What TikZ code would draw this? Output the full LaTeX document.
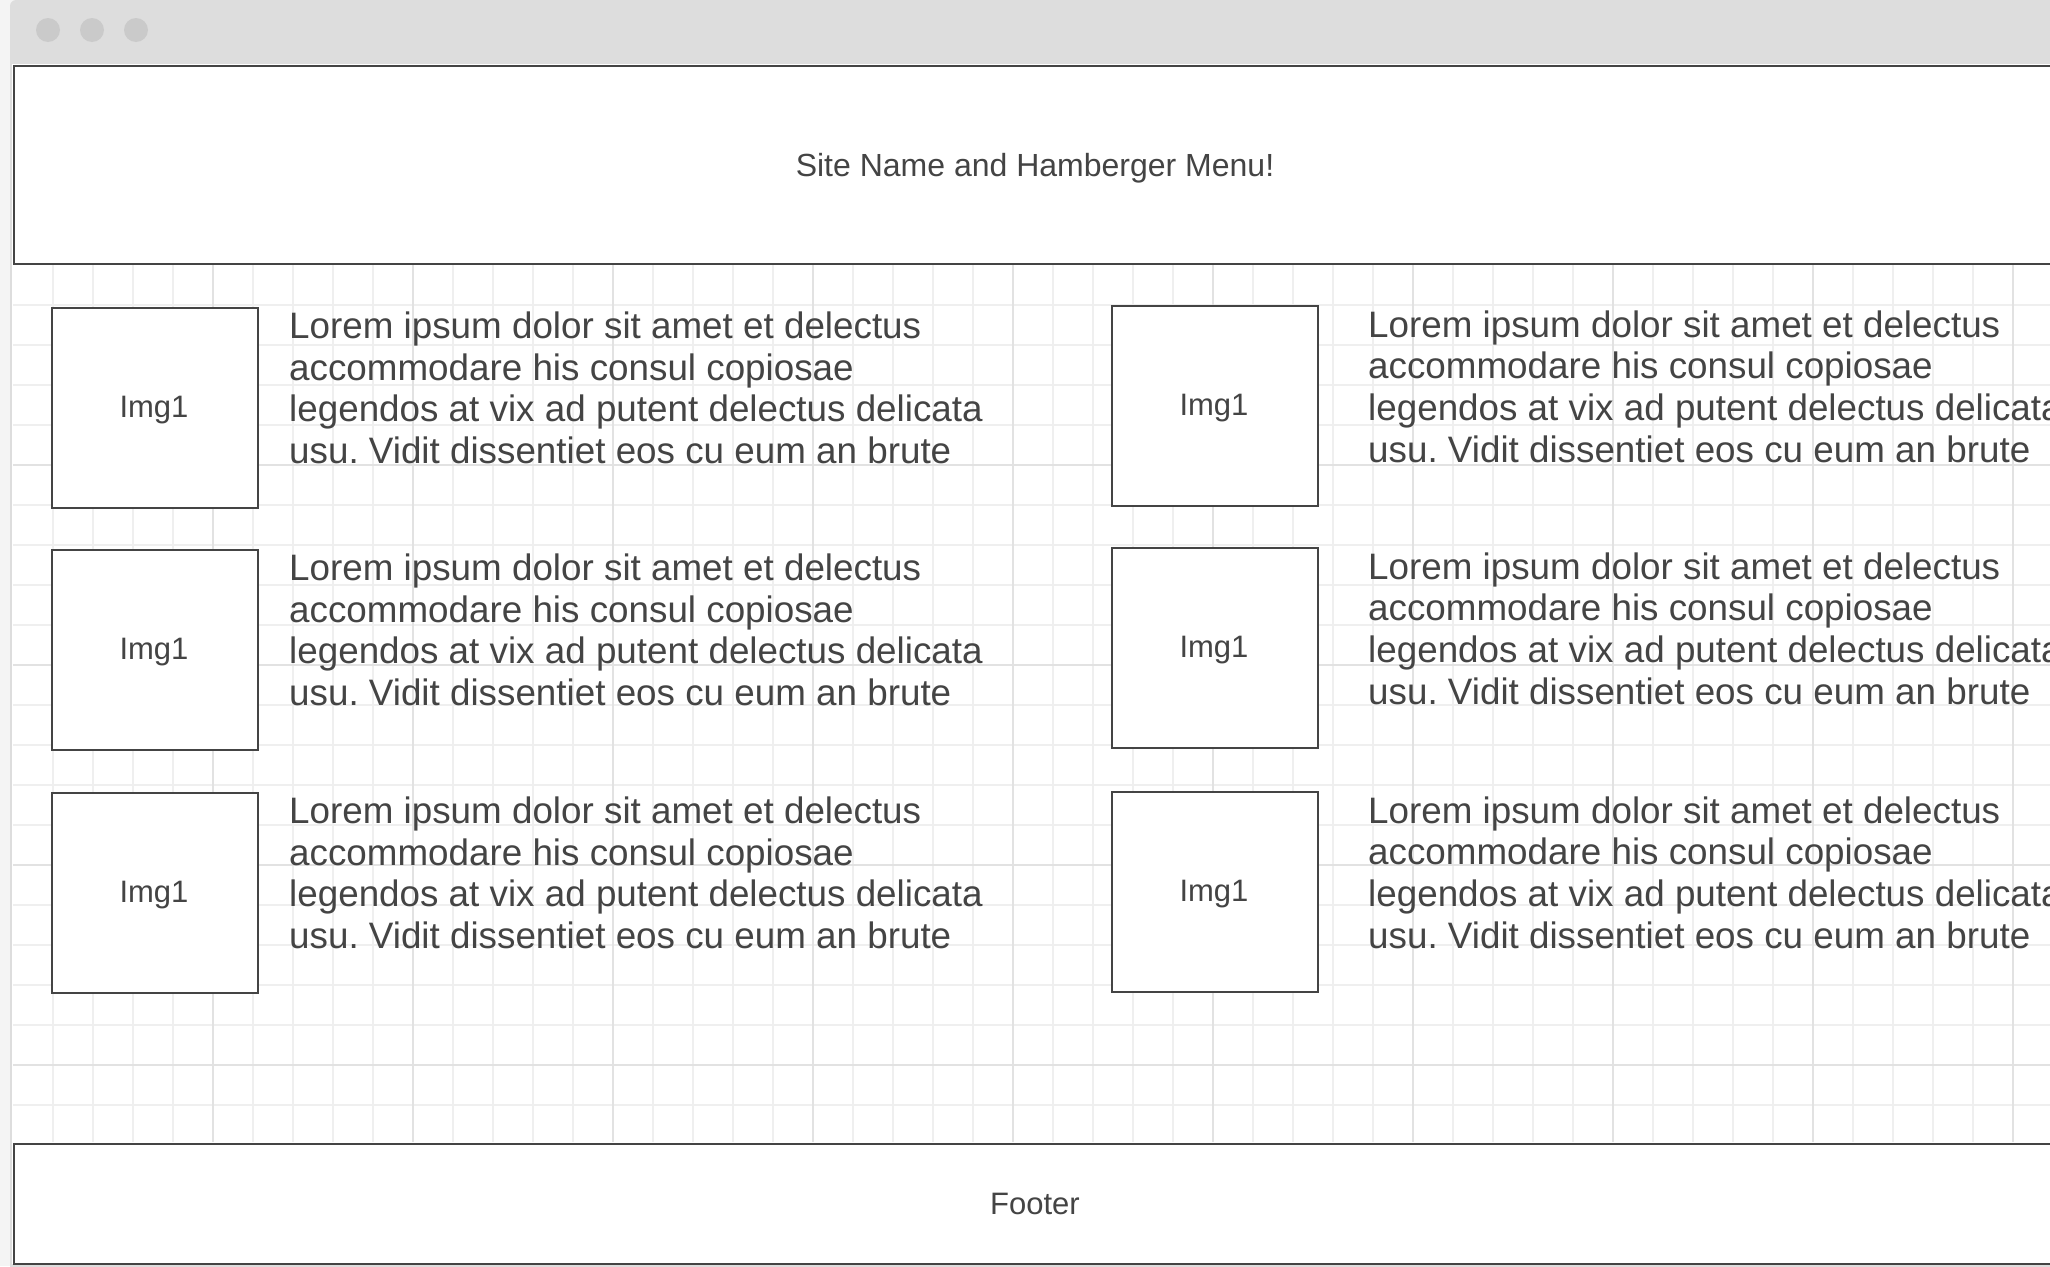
\documentclass[tikz,border=0pt]{standalone}
\usepackage{fontspec}
\setmainfont{Liberation Sans}
\definecolor{pagebg}{HTML}{F4F4F4}
\definecolor{framegray}{HTML}{DDDDDD}
\definecolor{dotgray}{HTML}{CACACA}
\definecolor{ink}{HTML}{444444}
\definecolor{gridminor}{HTML}{EFEFEF}
\definecolor{gridmajor}{HTML}{E2E2E2}
\frenchspacing
\newcommand{\lorembody}{\vtop{\baselineskip=41.7pt\hbox{Lorem ipsum dolor sit amet et delectus}\hbox{accommodare his consul copiosae}\hbox{legendos at vix ad putent delectus delicata}\hbox{usu. Vidit dissentiet eos cu eum an brute}}}
\begin{document}
\begin{tikzpicture}[x=1pt,y=-1pt,
 panel/.style={draw=ink, line width=2pt, fill=white, inner sep=0pt, anchor=north west},
 imgbox/.style={draw=ink, line width=1.5pt, fill=white, minimum width=206pt, minimum height=200pt, inner sep=0pt, anchor=north west},
 imgtext/.style={text=ink, font=\fontsize{31}{36}\selectfont, anchor=base, inner sep=0pt},
 lorem/.style={text=ink, font=\fontsize{36.8}{41.7}\selectfont, anchor=base west, inner sep=0pt},
 headtext/.style={text=ink, font=\fontsize{32}{38}\selectfont, anchor=base, inner sep=0pt},
 foottext/.style={text=ink, font=\fontsize{31}{36}\selectfont, anchor=base, inner sep=0pt},
 gminor/.style={draw=gridminor, line width=1.3pt},
 gmajor/.style={draw=gridmajor, line width=1.3pt},
 windot/.style={circle, fill=dotgray, minimum size=24pt, inner sep=0pt}]
\useasboundingbox (0,0) rectangle (2050,1266);
\clip (0,0) rectangle (2050,1266);
\fill[pagebg] (0,0) rectangle (2050,1266);
\fill[framegray, rounded corners=6pt] (10,0) rectangle (2090,1300);
\fill[white] (12,64) rectangle (2050,1264);
% grid
\foreach \i in {1,...,51} {\draw[gminor] ({13+40*\i},265) -- ({13+40*\i},1142);}
\foreach \j in {1,...,21} {\draw[gminor] (13,{265+40*\j}) -- (2050,{265+40*\j});}
\foreach \i in {1,...,10} {\draw[gmajor] ({13+200*\i},265) -- ({13+200*\i},1142);}
\foreach \j in {1,...,4} {\draw[gmajor] (13,{265+200*\j}) -- (2050,{265+200*\j});}
% title bar dots
\node[windot] (dot1) at (48,30) {};
\node[windot] (dot2) at (92,30) {};
\node[windot] (dot3) at (136,30) {};
% header and footer
\node[panel, minimum width=2044pt, minimum height=198pt] (header) at (13,65) {};
\node[headtext] (headlabel) at (1035,176) {Site Name and Hamberger Menu!};
\node[panel, minimum width=2044pt, minimum height=120pt] (footer) at (13,1143) {};
\node[foottext] (footlabel) at (1035,1214.3) {Footer};
% left column
\node[imgbox] (imgL1) at (51,307) {};
\node[imgtext] (imgL1t) at (154,417.7) {Img1};
\node[lorem] (txtL1) at (289,338.5) {\lorembody};
\node[imgbox] (imgL2) at (51,549) {};
\node[imgtext] (imgL2t) at (154,659.7) {Img1};
\node[lorem] (txtL2) at (289,580.5) {\lorembody};
\node[imgbox] (imgL3) at (51,792) {};
\node[imgtext] (imgL3t) at (154,902.7) {Img1};
\node[lorem] (txtL3) at (289,823.5) {\lorembody};
% right column
\node[imgbox] (imgR1) at (1111,305) {};
\node[imgtext] (imgR1t) at (1214,415.7) {Img1};
\node[lorem] (txtR1) at (1368,337) {\lorembody};
\node[imgbox] (imgR2) at (1111,547) {};
\node[imgtext] (imgR2t) at (1214,657.7) {Img1};
\node[lorem] (txtR2) at (1368,579) {\lorembody};
\node[imgbox] (imgR3) at (1111,791) {};
\node[imgtext] (imgR3t) at (1214,901.7) {Img1};
\node[lorem] (txtR3) at (1368,823) {\lorembody};
\end{tikzpicture}
\end{document}
